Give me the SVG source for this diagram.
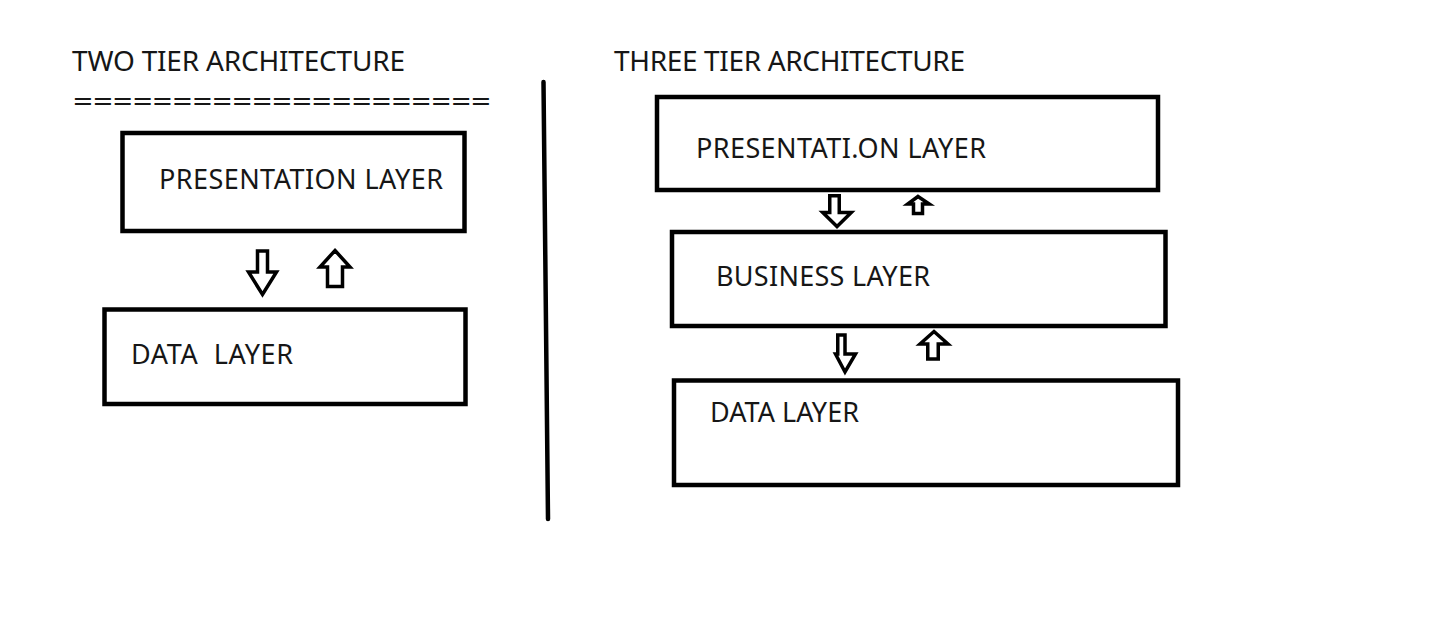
<svg xmlns="http://www.w3.org/2000/svg" width="1443" height="633" viewBox="0 0 1443 633">
<style>
.box{fill:none;stroke:#000;stroke-width:4.5}
.t{font-family:"Noto Sans","Open Sans","Liberation Sans",sans-serif;fill:#161616}
.title{font-size:28px}
.lbl{font-size:27px}
.arr{fill:#fff;stroke:#000;stroke-width:3.5;stroke-linejoin:miter}
</style>
<rect width="1443" height="633" fill="#fff"/>
<g id="titles">
<text class="t title" x="72" y="71" textLength="333" lengthAdjust="spacing">TWO TIER ARCHITECTURE</text>
<text class="t title" x="73" y="111" textLength="418" lengthAdjust="spacingAndGlyphs">=====================</text>
<text class="t title" x="614" y="71" textLength="351" lengthAdjust="spacing">THREE TIER ARCHITECTURE</text>
</g>
<line id="divider" x1="543.5" y1="82" x2="548" y2="519" stroke="#000" stroke-width="4.5" stroke-linecap="round"/>
<g id="two-presentation">
<rect class="box" x="122.5" y="133" width="342" height="98"/>
<text class="t lbl" x="159" y="189" textLength="284" lengthAdjust="spacing">PRESENTATION LAYER</text>
</g>
<g id="two-data">
<rect class="box" x="104.5" y="309.5" width="361" height="94.5"/>
<text class="t lbl" x="131" y="364" textLength="162" lengthAdjust="spacing" xml:space="preserve">DATA  LAYER</text>
</g>
<g id="three-presentation">
<rect class="box" x="657" y="97" width="501" height="93"/>
<text class="t lbl" x="696" y="158" textLength="290" lengthAdjust="spacing">PRESENTATI.ON LAYER</text>
</g>
<g id="three-business">
<rect class="box" x="672" y="232" width="493.5" height="94"/>
<text class="t lbl" x="716" y="286" textLength="214" lengthAdjust="spacing">BUSINESS LAYER</text>
</g>
<g id="three-data">
<rect class="box" x="674" y="380.5" width="504" height="104.5"/>
<text class="t lbl" x="710" y="422" textLength="149" lengthAdjust="spacing">DATA LAYER</text>
</g>
<g id="connectors">
<polygon class="arr" points="257.5,251 267.5,251 267.5,272 276.5,272 262.5,294.5 248.5,272 257.5,272"/>
<polygon class="arr" points="335,250.5 350,267 342.5,267 342.5,286.5 327.5,286.5 327.5,267 320,267"/>
<polygon class="arr" points="829.75,195.75 839.25,195.75 839.25,212.5 851.25,212.5 837,226.5 822.75,212.5 829.75,212.5"/>
<polygon class="arr" points="918,196.5 929.25,204 922.5,204 922.5,213.5 913.5,213.5 913.5,204 907.75,204"/>
<polygon class="arr" points="837.75,335 845,335 845,354 855.5,354 845,372 835.5,354 837.75,354"/>
<polygon class="arr" points="934,331.5 948,344 938.25,344 938.25,359 927.75,359 927.75,344 920,344"/>
</g>
</svg>
